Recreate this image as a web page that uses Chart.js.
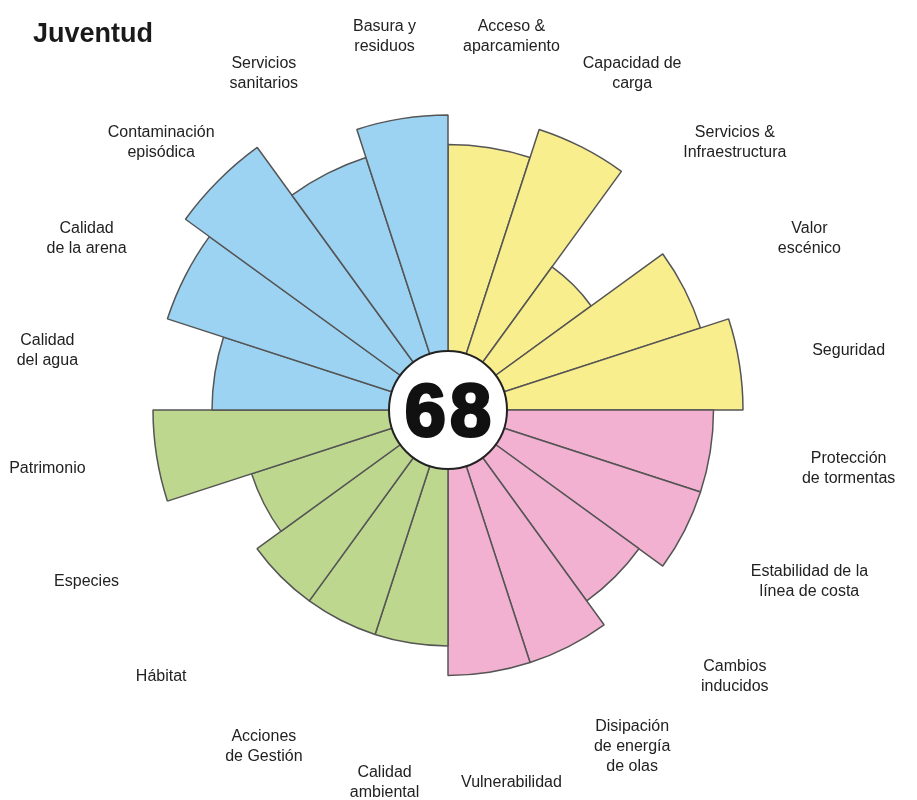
<!DOCTYPE html>
<html>
<head>
<meta charset="utf-8">
<script src="https://cdn.jsdelivr.net/npm/chart.js@4.4.1/dist/chart.umd.min.js"></script>
<style>
  html, body { margin: 0; padding: 0; background: #ffffff; }
  #wrap { width: 917px; height: 800px; }
</style>
</head>
<body>
<div id="wrap"><canvas id="roseChart" width="917" height="800"></canvas></div>
<script>
// indicadores, en sentido horario desde arriba
const labels = [
    ['Acceso &', 'aparcamiento'],
    ['Capacidad de', 'carga'],
    ['Servicios &', 'Infraestructura'],
    ['Valor', 'escénico'],
    ['Seguridad'],
    ['Protección', 'de tormentas'],
    ['Estabilidad de la', 'línea de costa'],
    ['Cambios', 'inducidos'],
    ['Disipación', 'de energía', 'de olas'],
    ['Vulnerabilidad'],
    ['Calidad', 'ambiental'],
    ['Acciones', 'de Gestión'],
    ['Hábitat'],
    ['Especies'],
    ['Patrimonio'],
    ['Calidad', 'del agua'],
    ['Calidad', 'de la arena'],
    ['Contaminación', 'episódica'],
    ['Servicios', 'sanitarios'],
    ['Basura y', 'residuos'],
];

// puntuaciones
const scores = [9, 10, 6, 9, 10, 9, 9, 8, 9, 9, 8, 8, 8, 7, 10, 8, 10, 11, 9, 10];

// grupo de cada indicador (0 amarillo, 1 rosa, 2 verde, 3 azul)
const groups = [0, 0, 0, 0, 0, 1, 1, 1, 1, 1, 2, 2, 2, 2, 2, 3, 3, 3, 3, 3];
const groupColors = ['#f9ee8e', '#f2b1d1', '#bdd78f', '#9cd3f2'];

const title = 'Juventud';
const totalScore = '68';
const scaleMax = 12;

document.addEventListener('DOMContentLoaded', function() {

    const ctx = document.getElementById('roseChart').getContext('2d');

    // etiquetas alrededor, circulo central y titulo
    const decorations = {
        id: 'decorations',
        afterDatasetsDraw(chart) {
            const c = chart.ctx;
            const scale = chart.scales.r;
            const cx = scale.xCenter;
            const cy = scale.yCenter;
            const n = labels.length;
            // las etiquetas van sobre una elipse algo mas ancha que alta
            const rx = scale.getDistanceFromCenterForValue(13.75);
            const ry = scale.getDistanceFromCenterForValue(12.8);

            c.save();
            c.fillStyle = '#222222';
            c.font = '16px "Liberation Sans", Arial, sans-serif';
            c.textAlign = 'center';
            c.textBaseline = 'middle';
            labels.forEach((lines, i) => {
                const a = (i + 0.5) / n * Math.PI * 2 - Math.PI / 2;
                const x = cx + Math.cos(a) * rx;
                const y = cy + Math.sin(a) * ry;
                const lh = 20;
                const y0 = y - (lines.length - 1) * lh / 2;
                lines.forEach((t, k) => c.fillText(t, x, y0 + k * lh));
            });

            // circulo con la puntuacion total
            c.beginPath();
            c.arc(cx, cy, 59, 0, Math.PI * 2);
            c.fillStyle = '#ffffff';
            c.fill();
            c.lineWidth = 2;
            c.strokeStyle = '#222222';
            c.stroke();

            c.fillStyle = '#111111';
            c.strokeStyle = '#111111';
            c.lineWidth = 3;
            c.lineJoin = 'round';
            c.font = 'bold 74px "Liberation Sans", Arial, sans-serif';
            c.letterSpacing = '4px';
            c.textBaseline = 'alphabetic';
            c.fillText(totalScore, cx + 2, cy + 26);
            c.strokeText(totalScore, cx + 2, cy + 26);
            c.letterSpacing = '0px';

            c.font = 'bold 27px "Liberation Sans", Arial, sans-serif';
            c.textAlign = 'left';
            c.textBaseline = 'middle';
            c.fillStyle = '#1a1a1a';
            c.fillText(title, 33, 35);
            c.restore();
        }
    };

    const roseChart = new Chart(ctx, {
        type: 'polarArea',
        data: {
            labels: labels.map(l => l.join(' ')),
            datasets: [
            {
                data: scores,
                backgroundColor: groups.map(g => groupColors[g]),
                borderColor: '#555555',
                borderWidth: 1.5,
            }],
        },
        options: {
            responsive: false,
            animation: false,
            layout: {
                padding: { left: 94, right: 115, top: 56, bottom: 36 },
            },
            plugins: {
                legend: { display: false },
                tooltip: { enabled: false },
            },
            scales: {
                r: {
                    display: false,
                    min: 0,
                    max: scaleMax,
                    startAngle: 0,
                },
            },
        },
        plugins: [decorations],
    });
});
</script>
</body>
</html>
